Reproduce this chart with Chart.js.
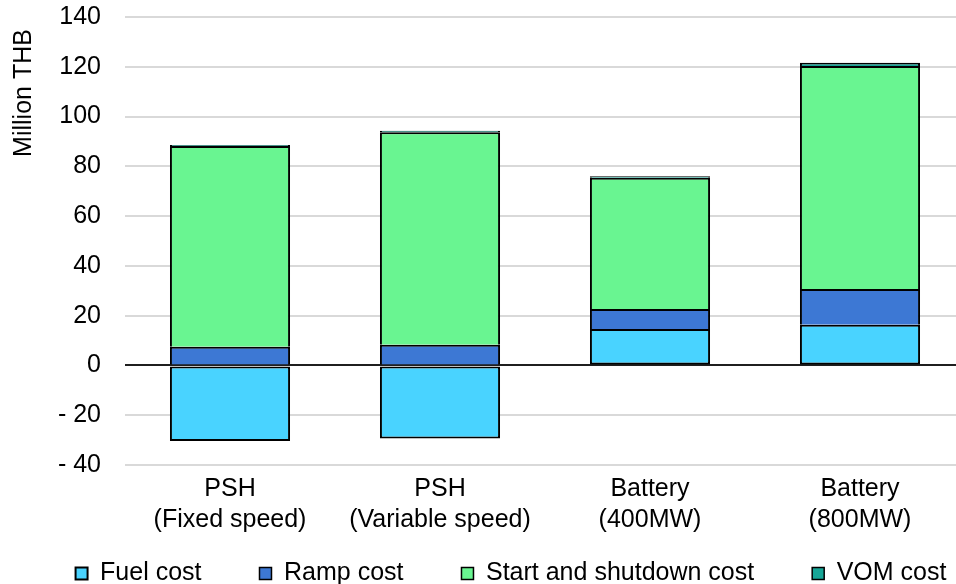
<!DOCTYPE html>
<html>
<head>
<meta charset="utf-8">
<script src="https://cdn.jsdelivr.net/npm/chart.js@4/dist/chart.umd.min.js"></script>
<style>
  html, body { margin: 0; padding: 0; background: #fff; overflow: hidden; width: 956px; height: 584px; }
  #wrap { position: absolute; left: 0; top: 0; width: 1022px; height: 584px; }
</style>
</head>
<body>
<div id="wrap"><canvas id="c" width="1022" height="584"></canvas></div>
<script>
// Cost breakdown per storage option (Million THB)
const categories = [
  ['PSH', '(Fixed speed)'],
  ['PSH', '(Variable speed)'],
  ['Battery', '(400MW)'],
  ['Battery', '(800MW)']
];
const fuelCost          = [-30.4, -29.4, 14.6, 16.4];
const rampCost          = [7.5, 8.3, 8.1, 14.3];
const startShutdownCost = [80.7, 85.4, 52.7, 89.6];
const vomCost           = [0.4, 0.6, 0.6, 1.3];
const yMin = -40, yMax = 140, yStep = 20;
const yTitle = 'Million THB';
const seriesNames = ['Fuel cost', 'Ramp cost', 'Start and shutdown cost', 'VOM cost'];

const FONT = '"Liberation Sans", Arial, sans-serif';
const colors = ['#49D3FF', '#3D78D4', '#69F591', '#17A697'];
const seriesData = [fuelCost, rampCost, startShutdownCost, vomCost];

// Each segment draws its upper edge; the base series also closes the bottom
const datasets = seriesNames.map((name, i) => ({
  label: name,
  data: seriesData[i],
  backgroundColor: colors[i],
  borderColor: '#000',
  borderWidth: { left: 2, right: 2, top: 2, bottom: i === 0 ? 2 : 0 },
  borderSkipped: false,
  barPercentage: 0.572,
  categoryPercentage: 1.0,
  stack: 'cost'
}));

// Rotated axis title near the top of the value axis
const axisTitlePlugin = {
  id: 'axisTitle',
  afterDraw(chart) {
    const ctx = chart.ctx;
    ctx.save();
    ctx.translate(24, 93);
    ctx.rotate(-Math.PI / 2);
    ctx.font = '25px ' + FONT;
    ctx.fillStyle = '#000';
    ctx.textAlign = 'center';
    ctx.textBaseline = 'middle';
    ctx.fillText(yTitle, 0, 0);
    ctx.restore();
  }
};

new Chart(document.getElementById('c'), {
  type: 'bar',
  data: { labels: categories, datasets },
  plugins: [axisTitlePlugin],
  options: {
    responsive: false,
    animation: false,
    layout: { padding: { top: 0, left: 0, right: 0, bottom: 0 } },
    plugins: {
      tooltip: { enabled: false },
      legend: {
        position: 'bottom',
        maxHeight: 81,
        labels: {
          boxWidth: 12,
          boxHeight: 12,
          padding: 58,
          color: '#000',
          font: { family: FONT, size: 25 }
        }
      }
    },
    scales: {
      x: {
        stacked: true,
        grid: { display: false, drawTicks: false },
        border: { display: false },
        ticks: {
          color: '#000',
          padding: 9,
          font: { family: FONT, size: 25, lineHeight: 1.24 },
          maxRotation: 0,
          autoSkip: false
        },
        afterFit(s) {
          s.height = 38;
          // category labels run two lines and extend into the legend band
          s._computeLabelArea = () => undefined;
        }
      },
      y: {
        stacked: true,
        min: yMin,
        max: yMax,
        border: { display: false },
        grid: {
          drawTicks: false,
          lineWidth: 2,
          color: c => (c.tick && c.tick.value === 0) ? '#1F1F1F' : '#D9D9D9'
        },
        ticks: {
          stepSize: yStep,
          padding: 24,
          color: '#000',
          font: { family: FONT, size: 25 },
          callback: v => v < 0 ? '- ' + Math.abs(v) : String(v)
        },
        afterFit(s) {
          s.width = 125;
          s.paddingTop = 17;
          s.paddingBottom = 0;
        }
      },
      yRight: {
        position: 'right',
        display: true,
        grid: { display: false, drawTicks: false },
        border: { display: false },
        ticks: { display: false },
        afterFit(s) { s.width = 57; }
      }
    }
  }
});
</script>
</body>
</html>
